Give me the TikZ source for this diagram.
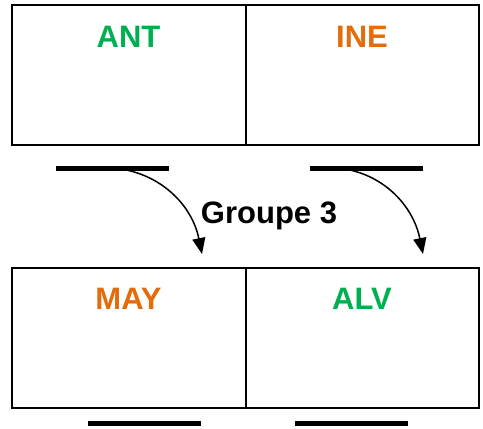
\documentclass[tikz,border=0pt]{standalone}
\usepackage{fontspec}
\setmainfont{Liberation Sans}
\usetikzlibrary{arrows.meta}
\definecolor{vert}{RGB}{0,176,80}
\definecolor{orange}{RGB}{228,108,10}
\tikzset{
  cell/.style={draw=black, line width=2pt, minimum width=233.5pt, minimum height=140pt, inner sep=0pt, outer sep=0pt},
  lab/.style={font=\fontsize{31}{31}\selectfont\bfseries, inner sep=0pt, anchor=base},
  bar/.style={fill=black, minimum width=113pt, minimum height=5pt, inner sep=0pt, outer sep=0pt},
  flow/.style={line width=1.5pt, -{Triangle[length=16pt,width=13pt]}}
}
\begin{document}
\begin{tikzpicture}[x=1pt,y=-1pt]
\useasboundingbox (0,0) rectangle (483,429);
% top boxes
\node[cell] (ant) at (128.75,75) {};
\node[cell] (ine) at (362.25,75) {};
\node[cell] (may) at (128.75,337.5) {};
\node[cell] (alv) at (362.25,337.5) {};
\node[lab, text=vert] (antl) at (128.5,47) {ANT};
\node[lab, text=orange] (inel) at (362,47) {INE};
\node[lab, text=orange] (mayl) at (128.5,309) {MAY};
\node[lab, text=vert] (alvl) at (362,309) {ALV};
% bars
\node[bar] (b1) at (112.5,168) {};
\node[bar] (b2) at (366.5,168) {};
\node[bar] (b3) at (144.5,423) {};
\node[bar] (b4) at (351.5,423) {};
% label
\node[lab] (g3) at (269,223) {Groupe 3};
% arrows
\coordinate (s1) at (113,168);
\coordinate (e1) at (202,254);
\coordinate (s2) at (337,168);
\coordinate (e2) at (423,254);
\draw[flow] (s1) .. controls (160,172) and (192,205) .. (e1);
\draw[flow] (s2) .. controls (382,172) and (413,205) .. (e2);
\end{tikzpicture}
\end{document}
